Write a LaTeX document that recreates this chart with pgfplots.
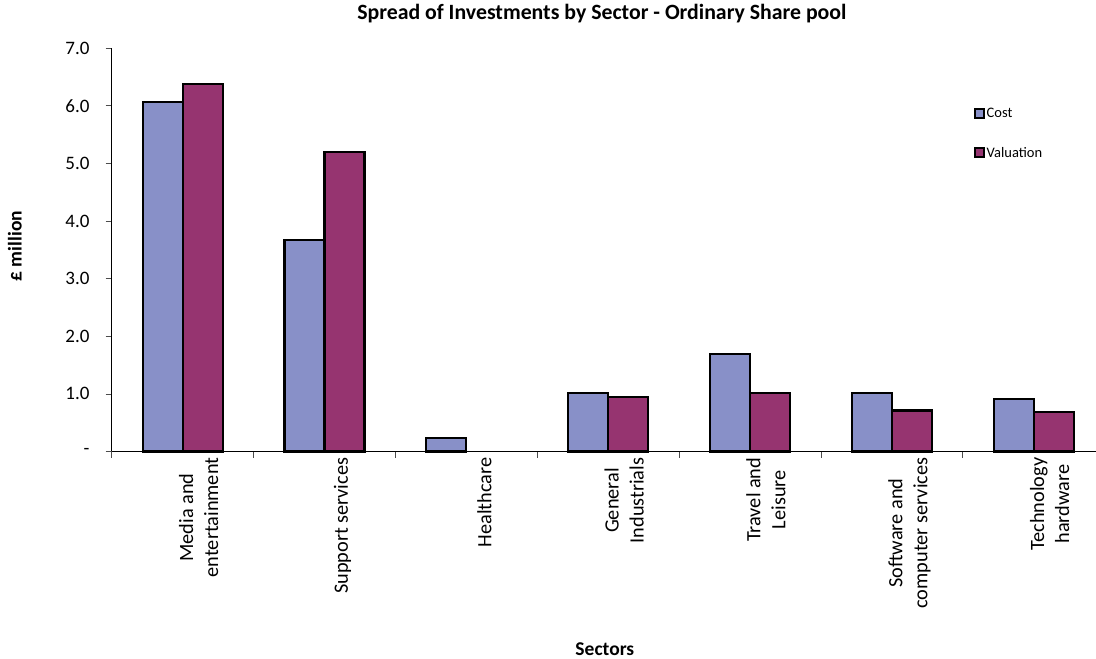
\documentclass[border=0pt]{standalone}
\usepackage{pgfplots}
\pgfplotsset{compat=1.18}
\usepackage{fontspec}
\setmainfont{Carlito}
\definecolor{costc}{HTML}{8890C8}
\definecolor{valc}{HTML}{963470}
\newcommand{\twol}[2]{\begin{tabular}{@{}c@{}}#1\\#2\end{tabular}}
\begin{document}
\begin{tikzpicture}
\useasboundingbox (0,0) rectangle (1096pt,659pt);
\begin{axis}[
  at={(111.7pt,207.5pt)}, anchor=south west,
  scale only axis, width=984.3pt, height=403.4pt,
  xmin=-0.5, xmax=6.44, ymin=0, ymax=7,
  axis lines=left, axis line style={-, line width=0.8pt},
  ybar=0pt, bar width=40pt,
  xtick={0,...,6},
  xticklabels={{\twol{Media and}{entertainment}},{Support services},{Healthcare},{\twol{General}{Industrials}},{\twol{Travel and}{Leisure}},{\twol{Software and}{computer services}},{\twol{Technology}{hardware}}},
  major x tick style={draw=none},
  minor xtick={-0.5,0.5,...,6.5},
  minor x tick style={line width=0.6pt, black!70},
  minor tick length=6pt,
  tick align=outside,
  ytick={0,1,...,7},
  yticklabels={-,1.0,2.0,3.0,4.0,5.0,6.0,7.0},
  major y tick style={line width=0.6pt, black!70},
  major tick length=6pt,
  xticklabel style={rotate=90, anchor=east, inner sep=0pt, yshift=-18pt, font=\fontsize{20.3}{25}\selectfont},
  yticklabel style={anchor=east, inner sep=0pt, xshift=-16pt, font=\fontsize{19}{23}\selectfont},
  title={Spread of Investments by Sector - Ordinary Share pool},
  title style={at={(0.498,1.0695)}, anchor=center, font=\bfseries\fontsize{21.8}{26}\selectfont},
  xlabel={Sectors},
  xlabel style={at={(0.501,-0.489)}, anchor=center, font=\bfseries\fontsize{19.5}{23}\selectfont},
  ylabel={£ million},
  ylabel style={at={(-0.0985,0.509)}, anchor=center, rotate=0, font=\bfseries\fontsize{19.5}{23}\selectfont},
  legend style={at={(0.873,0.857)}, anchor=north west, draw=none, fill=none,
    font=\fontsize{14.5}{17}\selectfont, row sep=28pt,
    nodes={inner xsep=1.5pt, inner ysep=0pt}},
  legend cell align=left,
  legend image code/.code={\draw[#1, line width=1.8pt, draw=black] (0pt,-4.6pt) rectangle (9.2pt,4.6pt);},
  clip=false,
]
\addplot[fill=costc, draw=black, line width=2.2pt] coordinates {(0,6.07) (1,3.67) (2,0.23) (3,1.02) (4,1.69) (5,1.01) (6,0.91)};
\addplot[fill=valc, draw=black, line width=2.2pt] coordinates {(0,6.375) (1,5.2) (3,0.94) (4,1.01) (5,0.71) (6,0.69)};
\legend{Cost,Valuation}
\end{axis}
\end{tikzpicture}
\end{document}
